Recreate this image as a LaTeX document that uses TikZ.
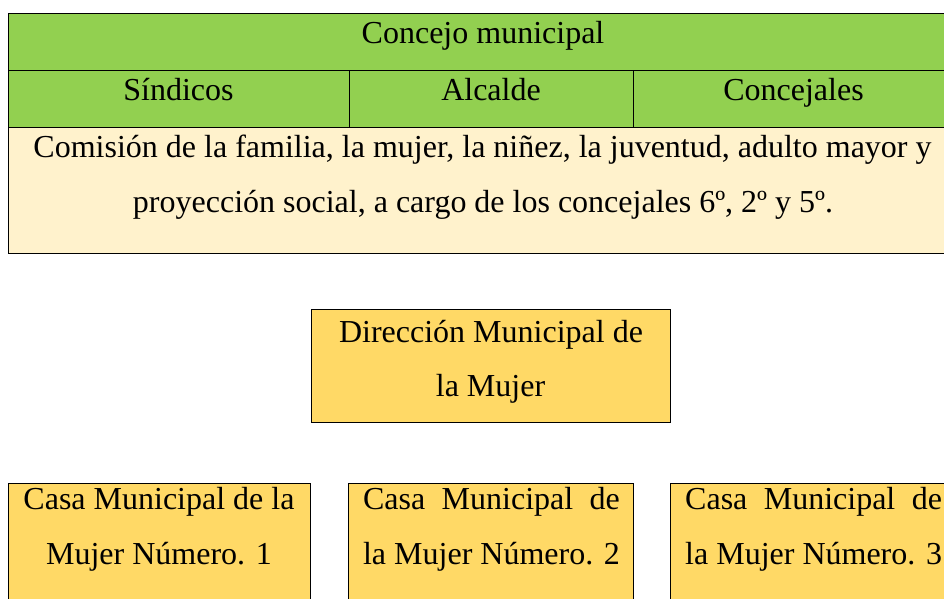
\documentclass[tikz,border=0pt]{standalone}
\usepackage{fontspec}
\setmainfont{Liberation Serif}
\definecolor{cgreen}{HTML}{92D050}
\definecolor{ccream}{HTML}{FFF2CC}
\definecolor{cgold}{HTML}{FFD966}
\begin{document}
\begin{tikzpicture}[x=1pt,y=-1pt,
  cell/.style={draw=black,line width=0.9pt,inner sep=0pt,outer sep=0pt,anchor=north west},
  txt/.style={inner sep=0pt,anchor=base,font=\fontsize{32}{38}\selectfont}]
\useasboundingbox (0,0) rectangle (944,599);
\clip (0,0) rectangle (944,599);
% table
\node[cell,fill=cgreen,minimum width=946pt,minimum height=57pt] (row1) at (8,13) {};
\node[cell,fill=cgreen,minimum width=341pt,minimum height=57pt] (sind) at (8,70) {};
\node[cell,fill=cgreen,minimum width=284pt,minimum height=57pt] (alc) at (349,70) {};
\node[cell,fill=cgreen,minimum width=321pt,minimum height=57pt] (conc) at (633,70) {};
\node[cell,fill=ccream,minimum width=946pt,minimum height=126pt] (row3) at (8,127) {};
\node[txt] (t1) at (483,44) {Concejo municipal};
\node[txt] (t2) at (178.5,101) {Síndicos};
\node[txt] (t3) at (491,101) {Alcalde};
\node[txt] (t4) at (793.5,101) {Concejales};
\node[txt] (t5) at (482.5,157) {Comisión de la familia, la mujer, la niñez, la juventud, adulto mayor y};
\node[txt] (t6) at (483,212) {proyección social, a cargo de los concejales 6º, 2º y 5º.};
% direccion
\node[cell,fill=cgold,minimum width=359pt,minimum height=113pt] (dir) at (311,309) {};
\node[txt] (d1) at (491,342) {Dirección Municipal de};
\node[txt] (d2) at (490.5,396) {la Mujer};
% casas
\node[cell,fill=cgold,minimum width=302pt,minimum height=140pt] (c1) at (8,483) {};
\node[cell,fill=cgold,minimum width=285pt,minimum height=140pt] (c2) at (348,483) {};
\node[cell,fill=cgold,minimum width=285pt,minimum height=140pt] (c3) at (670,483) {};
\node[txt] (c1a) at (159,509) {Casa Municipal de la};
\node[txt] (c1b) at (159,564) {Mujer Número. 1};
\node[txt] (c2a) at (491.5,509) {\setbox0\hbox{la Mujer Número. 2}\hbox to \wd0{Casa\hfill Municipal\hfill de}};
\node[txt] (c2b) at (491.5,564) {la Mujer Número. 2};
\node[txt,anchor=base west] (c3a) at (685,509) {\setbox0\hbox{la Mujer Número. 3}\hbox to \wd0{Casa\hfill Municipal\hfill de}};
\node[txt,anchor=base west] (c3b) at (685,564) {la Mujer Número. 3};
\end{tikzpicture}
\end{document}
